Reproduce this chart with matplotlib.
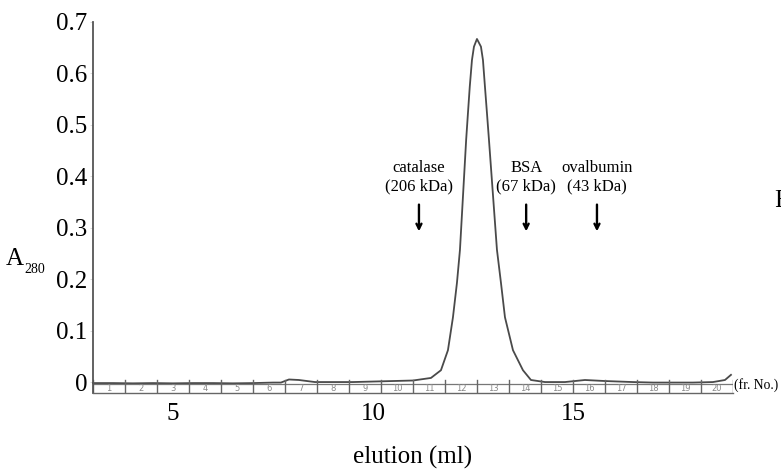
import matplotlib.pyplot as plt

# elution profile (ml, A280)
elution_ml = [3.0, 3.5, 4.0, 4.5, 5.0, 5.5, 6.0, 6.5, 7.0, 7.5, 7.7, 7.9, 8.15, 8.55,
              9.0, 9.5, 10.0, 10.5, 11.0, 11.45, 11.7, 11.875, 12.0, 12.1, 12.175,
              12.33, 12.375, 12.42, 12.475, 12.525, 12.6, 12.7, 12.75, 12.8, 12.85,
              12.9, 13.1, 13.2, 13.3, 13.5, 13.75, 13.95, 14.3, 14.8, 15.3, 15.8,
              16.5, 17.0, 17.5, 18.0, 18.5, 18.8, 18.95]
a280 = [-0.002, -0.002, -0.0025, -0.002, -0.0025, -0.002, -0.002, -0.0025, -0.002,
        -0.001, -0.001, 0.005, 0.004, 0.0, 0.0, 0.0, 0.001, 0.002, 0.003, 0.008,
        0.023, 0.062, 0.126, 0.193, 0.257, 0.471, 0.523, 0.574, 0.626, 0.652, 0.667,
        0.652, 0.626, 0.574, 0.523, 0.471, 0.257, 0.193, 0.126, 0.062, 0.023, 0.004,
        0.0, 0.0, 0.004, 0.002, 0.0, -0.001, -0.001, -0.001, 0.0, 0.004, 0.014]

# fractions: 20 fractions of 0.8 ml from 3.0 ml
frac_start = 3.0
frac_width = 0.8
frac_labels = [str(i) for i in range(1, 21)]

# size markers
markers = ["catalase\n(206 kDa)", "BSA\n(67 kDa)", "ovalbumin\n(43 kDa)"]
marker_ml = [11.15, 13.83, 15.6]

yticks = [0, 0.1, 0.2, 0.3, 0.4, 0.5, 0.6, 0.7]
ytick_labels = ["0", "0.1", "0.2", "0.3", "0.4", "0.5", "0.6", "0.7"]
xticks = [5, 10, 15]

plt.rcParams["font.family"] = ["Liberation Serif", "DejaVu Serif"]

fig = plt.figure(figsize=(7.81, 4.73), dpi=100)
ax = fig.add_axes([0.119, 0.169, 0.8195, 0.7845])
ax.set_xlim(3.0, 19.0)
ax.set_ylim(-0.0214, 0.7)

ax.plot(elution_ml, a280, color="#4a4a4a", lw=1.3, clip_on=False)

# fraction strip
ax.axhline(-0.004, color="#777777", lw=0.9)
for i in range(len(frac_labels) + 1):
    xf = frac_start + i * frac_width
    ax.plot([xf, xf], [-0.0214, 0.004], color="#666666", lw=1.0)
for i, lab in enumerate(frac_labels):
    ax.text(frac_start + (i + 0.5) * frac_width, -0.0125, lab, ha="center", va="center",
            fontsize=6, color="#888888", family="DejaVu Sans")
ax.text(19.03, -0.006, "(fr. No.)", ha="left", va="center", fontsize=9.8, clip_on=False)

for lab, xm in zip(markers, marker_ml):
    ax.text(xm, 0.399, lab, ha="center", va="center", fontsize=12, linespacing=1.2)
    ax.annotate("", xy=(xm, 0.293), xytext=(xm, 0.345),
                arrowprops=dict(arrowstyle="->", color="black", lw=1.7,
                                mutation_scale=9, shrinkA=0, shrinkB=0))

for s in ["top", "right"]:
    ax.spines[s].set_visible(False)
ax.spines["left"].set_color("#555555")
ax.spines["left"].set_linewidth(1.3)
ax.spines["bottom"].set_color("#666666")
ax.spines["bottom"].set_linewidth(1.0)

ax.set_yticks(yticks)
ax.set_yticklabels(ytick_labels, fontsize=18)
ax.tick_params(axis="y", length=2, width=0.5, color="#cccccc", pad=2)
ax.set_xticks(xticks)
ax.set_xticklabels([str(t) for t in xticks], fontsize=18)
ax.tick_params(axis="x", length=0, pad=7)
ax.set_xlabel("elution (ml)", fontsize=18, labelpad=15)

fig.text(0.008, 0.452, r"A", fontsize=18, ha="left", va="center")
fig.text(0.031, 0.43, "280", fontsize=10, ha="left", va="center")
fig.text(0.991, 0.575, "F", fontsize=18, ha="left", va="center")

fig.savefig("out.png", dpi=100)
